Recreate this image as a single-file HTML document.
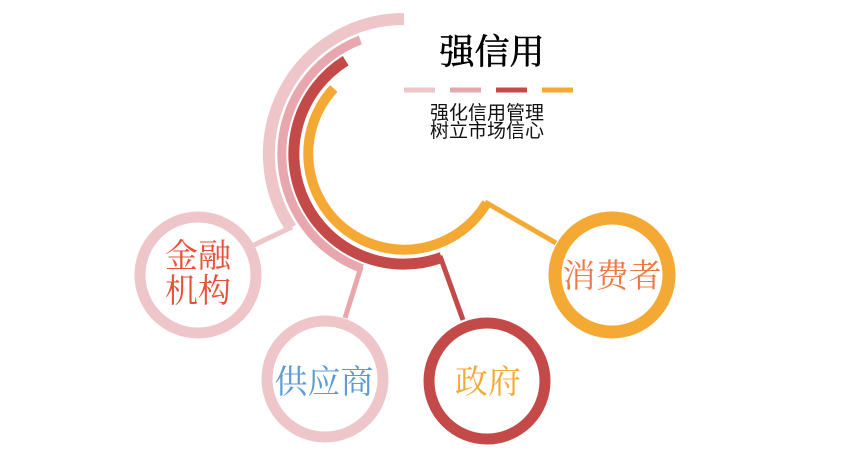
<!DOCTYPE html>
<html><head><meta charset="utf-8"><style>
html,body{margin:0;padding:0;background:#fff;}
svg{display:block;}
</style></head><body>
<svg width="844" height="460" viewBox="0 0 844 460" xmlns="http://www.w3.org/2000/svg">
<g fill="none" stroke-linecap="butt">
<path d="M404,19 A135,135 0 0 0 291,228" stroke="#EEC5C8" stroke-width="12"/>
<path d="M360.3,40 A122,122 0 0 0 362.3,268.7" stroke="#E8A7AE" stroke-width="9"/>
<path d="M345.7,60.7 A110,110 0 0 0 441.6,257.4" stroke="#C44A4A" stroke-width="11"/>
<path d="M333.8,88.5 A96,96 0 1 0 486.7,202.9" stroke="#F4A935" stroke-width="10"/>
<line x1="292" y1="227" x2="254" y2="245" stroke="#EEC5C8" stroke-width="5"/>
<line x1="361" y1="267" x2="345" y2="318" stroke="#E8A7AE" stroke-width="5"/>
<line x1="440" y1="256" x2="463" y2="320" stroke="#C44A4A" stroke-width="5"/>
<line x1="485" y1="202" x2="556" y2="243" stroke="#F4A935" stroke-width="5"/>
<circle cx="198" cy="275" r="58" stroke="#EEC5C8" stroke-width="11" fill="#fff"/>
<circle cx="325" cy="379" r="58" stroke="#EEC5C8" stroke-width="11" fill="#fff"/>
<circle cx="487" cy="381" r="58" stroke="#C44A4A" stroke-width="11" fill="#fff"/>
<circle cx="612" cy="275" r="57" stroke="#F4A935" stroke-width="13" fill="#fff"/>
</g>
<text x="492" y="64" text-anchor="middle" font-family="'Liberation Serif','Noto Serif CJK SC',serif" font-size="35" fill="#000" stroke="#000" stroke-width="0.6">强信用</text>
<g stroke-width="5">
<line x1="404" y1="90" x2="435" y2="90" stroke="#EEC5C8"/>
<line x1="450" y1="90" x2="481" y2="90" stroke="#E8A7AE"/>
<line x1="496" y1="90" x2="527" y2="90" stroke="#C44A4A"/>
<line x1="542" y1="90" x2="573" y2="90" stroke="#F4A935"/>
</g>
<g font-family="'Liberation Sans','Noto Sans CJK SC',sans-serif" font-size="19" fill="#111" text-anchor="middle">
<text x="487" y="119">强化信用管理</text>
<text x="487" y="137">树立市场信心</text>
</g>
<g font-family="'Liberation Serif','Noto Serif CJK SC',serif" font-size="33" text-anchor="middle">
<text x="198" y="267" fill="#E8503A">金融</text>
<text x="198" y="302" fill="#E8503A">机构</text>
<text x="324" y="393" fill="#5B9BD5">供应商</text>
<text x="488" y="393" fill="#F4A935">政府</text>
<text x="612" y="287" fill="#EC7A45">消费者</text>
</g>
</svg>
</body></html>
